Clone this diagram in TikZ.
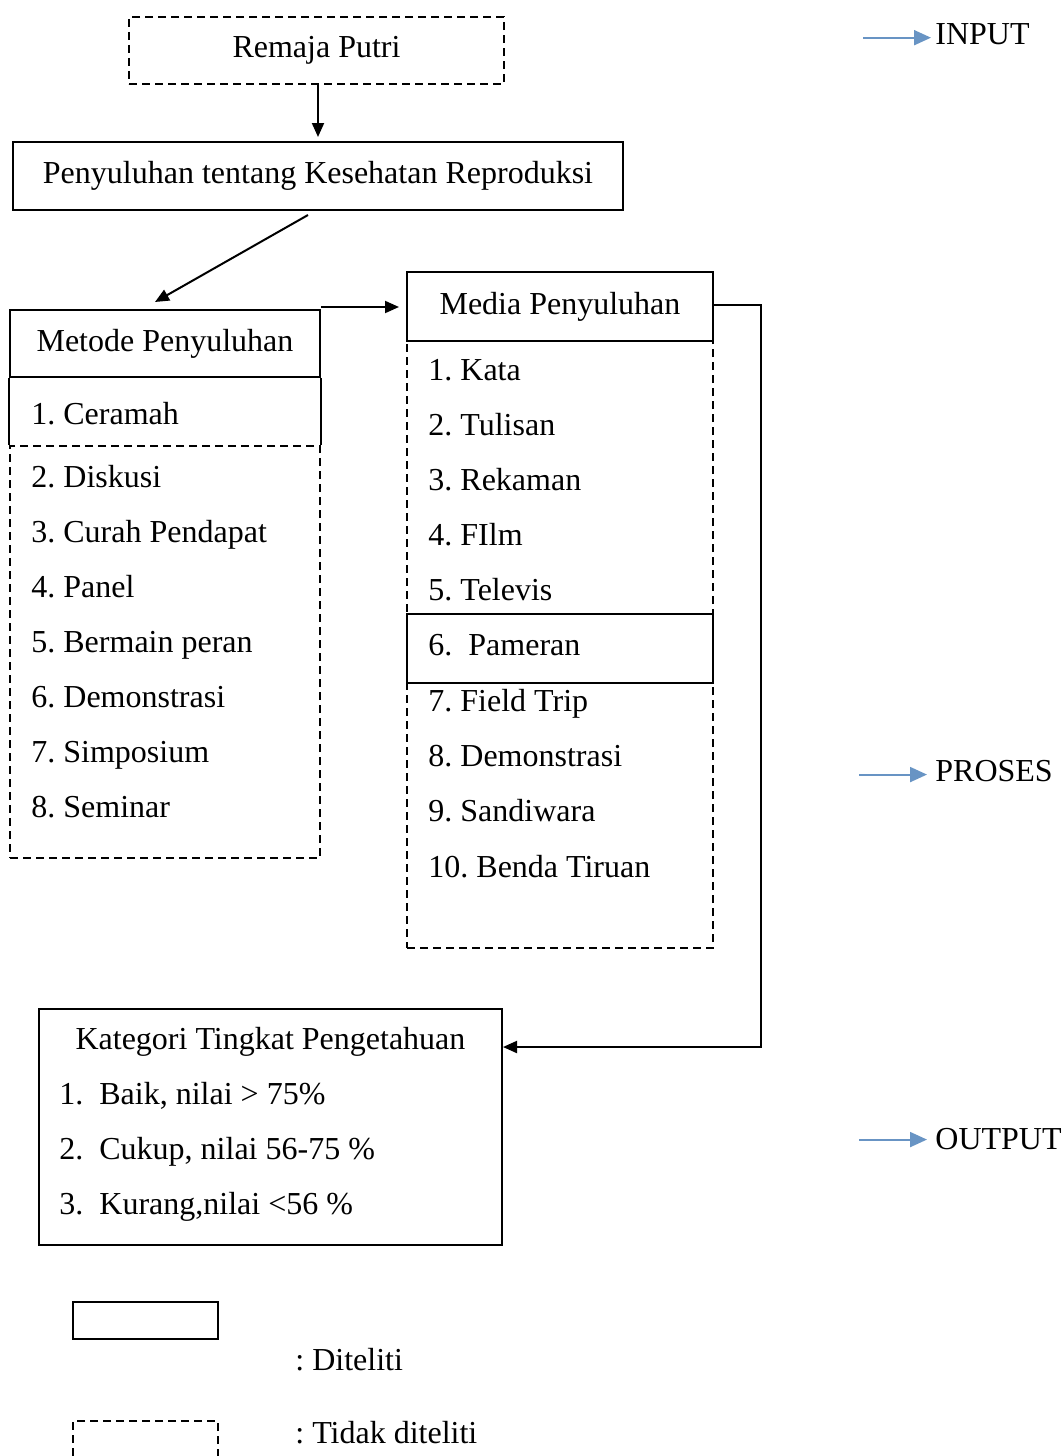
\documentclass[tikz,border=0pt]{standalone}
\usepackage{fontspec}
\setmainfont{Liberation Serif}
\usetikzlibrary{arrows.meta,calc}
\definecolor{arrblue}{RGB}{104,148,196}
\frenchspacing
\begin{document}
\begin{tikzpicture}[x=0.5pt,y=-0.5pt,
 every node/.style={font=\fontsize{16pt}{19pt}\selectfont\frenchspacing},
 sbox/.style={draw,line width=1pt,inner sep=0pt},
 dbox/.style={draw,line width=1pt,dash pattern=on 4pt off 2.5pt,inner sep=0pt},
 dline/.style={line width=1pt,dash pattern=on 4pt off 2.5pt},
 sline/.style={line width=1pt},
 item/.style={anchor=base west,inner sep=0pt},
 arr/.style={line width=1pt,-{Triangle[length=7pt,width=6pt]}},
 barr/.style={line width=1pt,color=arrblue,-{Triangle[length=8.5pt,width=7.5pt]}},
 lab/.style={anchor=base west,inner sep=2pt}
]
\clip (0,0) rectangle (1064,1456);
\fill[white] (0,0) rectangle (1064,1456);

% top boxes
\node[dbox,minimum width=187.5pt,minimum height=33.5pt] (remaja) at (316.5,50.5) {Remaja Putri};
\node[sbox,minimum width=305pt,minimum height=34pt] (peny) at (318,176) {Penyuluhan tentang Kesehatan Reproduksi};

% Metode
\node[sbox,minimum width=155pt,minimum height=33.5pt] (metode) at (165,343.5) {Metode Penyuluhan};
\node[dbox,minimum width=155pt,minimum height=206pt] (metodelist) at (165,652) {};
\draw[sline] (metode.south west) -- (metodelist.north west);
\draw[sline] (metode.south east) -- (metodelist.north east);
\node[item] (m1) at (31,424) {1. Ceramah};
\node[item] (m2) at (31,487) {2. Diskusi};
\node[item] (m3) at (31,542) {3. Curah Pendapat};
\node[item] (m4) at (31,597) {4. Panel};
\node[item] (m5) at (31,652) {5. Bermain peran};
\node[item] (m6) at (31,707) {6. Demonstrasi};
\node[item] (m7) at (31,762) {7. Simposium};
\node[item] (m8) at (31,817) {8. Seminar};

% Media
\node[sbox,minimum width=153pt,minimum height=34.5pt] (media) at (560,306.5) {Media Penyuluhan};
\node[dbox,minimum width=153pt,minimum height=303.5pt] (medialist) at (560,644.5) {};
\node[sbox,minimum width=153pt,minimum height=34.5pt] (pameranbox) at (560,648.5) {};
\node[item] (k1) at (428,380) {1. Kata};
\node[item] (k2) at (428,435) {2. Tulisan};
\node[item] (k3) at (428,490) {3. Rekaman};
\node[item] (k4) at (428,545) {4. FIlm};
\node[item] (k5) at (428,600) {5. Televis};
\node[item] (k6) at (428,655) {6.\ \ Pameran};
\node[item] (k7) at (428,711) {7. Field Trip};
\node[item] (k8) at (428,766) {8. Demonstrasi};
\node[item] (k9) at (428,821) {9. Sandiwara};
\node[item] (k10) at (428,877) {10. Benda Tiruan};

% Kategori
\node[sbox,minimum width=231.5pt,minimum height=118pt] (kat) at (270.5,1127) {};
\node[anchor=base,inner sep=0pt] (kattitle) at (270.5,1049) {Kategori Tingkat Pengetahuan};
\node[item] (c1) at (59,1104) {1.\ \ Baik, nilai > 75\%};
\node[item] (c2) at (59,1159) {2.\ \ Cukup, nilai 56-75 \%};
\node[item] (c3) at (59,1214) {3.\ \ Kurang,nilai <56 \%};
\coordinate (katin) at ([yshift=-19.5pt]kat.north east);

% connectors
\draw[arr] (peny.north |- remaja.south) -- ([yshift=2pt]peny.north);
\draw[arr] ([xshift=-5pt,yshift=-2pt]peny.south) -- ([xshift=-5pt,yshift=3.5pt]metode.north);
\draw[arr] ([yshift=1pt]metode.north east) -- ([xshift=-3.5pt,yshift=1pt]metode.north east -| media.west);
\draw[sline,-{Triangle[length=7pt,width=6pt]}] ([yshift=1pt]media.east) -- ++(23.5pt,0) coordinate (bend) |- (katin);

% legend
\node[sbox,minimum width=72.5pt,minimum height=18.5pt] (legs) at (145.5,1320.5) {};
\node[dbox,minimum width=72.5pt,minimum height=30pt] (legd) at (145.5,1451) {};
\node[lab,inner sep=0pt] (legstext) at (295,1370) {: Diteliti};
\node[lab,inner sep=0pt] (legdtext) at (295,1443) {: Tidak diteliti};

% right labels
\node[lab] (input) at (931,44) {INPUT};
\node[lab] (proses) at (931,781) {PROSES};
\node[lab] (output) at (931,1149) {OUTPUT};
\draw[barr] ([xshift=-34pt,yshift=-2pt]input.west) -- ([yshift=-2pt]input.west);
\draw[barr] ([xshift=-36pt,yshift=-2pt]proses.west) -- ([xshift=-2pt,yshift=-2pt]proses.west);
\draw[barr] ([xshift=-36pt,yshift=-0.5pt]output.west) -- ([xshift=-2pt,yshift=-0.5pt]output.west);
\end{tikzpicture}
\end{document}
